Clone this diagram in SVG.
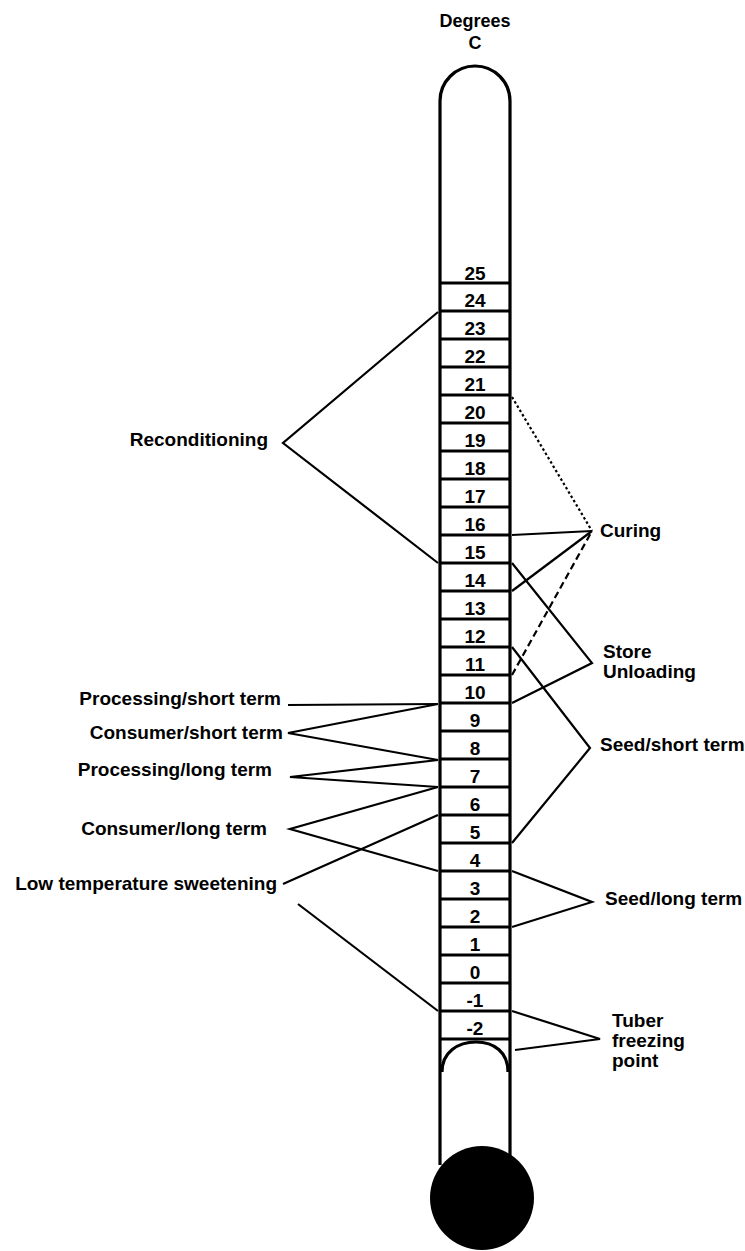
<svg xmlns="http://www.w3.org/2000/svg" width="745" height="1251" viewBox="0 0 745 1251">
<style>
text{font-family:"Liberation Sans",Arial,sans-serif;font-weight:bold;fill:#000}
.lbl{font-size:19px}
.num{font-size:19px;text-anchor:middle}
.l{text-anchor:end}
.wall{stroke:#000;stroke-width:3.2;fill:none}
.div{stroke:#000;stroke-width:3}
.con{stroke:#000;stroke-width:2.2;fill:none;stroke-linejoin:miter}
.dot{stroke-dasharray:2.5,2.5}
.dash{stroke-dasharray:7,4}
</style>
<rect width="745" height="1251" fill="#fff"/>
<g id="title">
<text x="475" y="27" font-size="18" text-anchor="middle">Degrees</text>
<text x="475" y="49" font-size="18" text-anchor="middle">C</text>
</g>
<g id="thermometer">
<path class="wall" d="M440,1165 L440,101 A35,35 0 0 1 510,101 L510,1165"/>
<g class="div">
<line x1="440" y1="283" x2="510" y2="283"/><line x1="440" y1="311" x2="510" y2="311"/>
<line x1="440" y1="339" x2="510" y2="339"/><line x1="440" y1="367" x2="510" y2="367"/>
<line x1="440" y1="395" x2="510" y2="395"/><line x1="440" y1="423" x2="510" y2="423"/>
<line x1="440" y1="451" x2="510" y2="451"/><line x1="440" y1="479" x2="510" y2="479"/>
<line x1="440" y1="507" x2="510" y2="507"/><line x1="440" y1="535" x2="510" y2="535"/>
<line x1="440" y1="563" x2="510" y2="563"/><line x1="440" y1="591" x2="510" y2="591"/>
<line x1="440" y1="619" x2="510" y2="619"/><line x1="440" y1="647" x2="510" y2="647"/>
<line x1="440" y1="675" x2="510" y2="675"/><line x1="440" y1="703" x2="510" y2="703"/>
<line x1="440" y1="731" x2="510" y2="731"/><line x1="440" y1="759" x2="510" y2="759"/>
<line x1="440" y1="787" x2="510" y2="787"/><line x1="440" y1="815" x2="510" y2="815"/>
<line x1="440" y1="843" x2="510" y2="843"/><line x1="440" y1="871" x2="510" y2="871"/>
<line x1="440" y1="899" x2="510" y2="899"/><line x1="440" y1="927" x2="510" y2="927"/>
<line x1="440" y1="955" x2="510" y2="955"/><line x1="440" y1="983" x2="510" y2="983"/>
<line x1="440" y1="1011" x2="510" y2="1011"/><line x1="440" y1="1039" x2="510" y2="1039"/>
</g>
<g class="num">
<text x="475" y="280">25</text><text x="475" y="307">24</text><text x="475" y="335">23</text>
<text x="475" y="363">22</text><text x="475" y="391">21</text><text x="475" y="419">20</text>
<text x="475" y="447">19</text><text x="475" y="475">18</text><text x="475" y="503">17</text>
<text x="475" y="531">16</text><text x="475" y="559">15</text><text x="475" y="587">14</text>
<text x="475" y="615">13</text><text x="475" y="643">12</text><text x="475" y="671">11</text>
<text x="475" y="699">10</text><text x="475" y="727">9</text><text x="475" y="755">8</text>
<text x="475" y="783">7</text><text x="475" y="811">6</text><text x="475" y="839">5</text>
<text x="475" y="867">4</text><text x="475" y="895">3</text><text x="475" y="923">2</text>
<text x="475" y="951">1</text><text x="475" y="979">0</text><text x="475" y="1007">-1</text>
<text x="475" y="1035">-2</text>
</g>
<path class="wall" d="M442,1072 C442,1052 458,1042 476,1042 C494,1042 508,1052 508,1072"/>
<circle cx="482" cy="1198" r="52" fill="#000"/>
</g>
<g id="connectors">
<polyline class="con" points="438,312 283,443 438,563"/>
<line class="con" x1="288" y1="705" x2="438" y2="704"/>
<polyline class="con" points="438,704 288,733 438,760"/>
<polyline class="con" points="438,760 290,777 438,787"/>
<polyline class="con" points="438,787 290,829 438,871"/>
<line class="con" x1="438" y1="815" x2="283" y2="884"/>
<line class="con" x1="298" y1="904" x2="438" y2="1011"/>
<line class="con dot" x1="512" y1="397" x2="592" y2="531"/>
<line class="con" x1="512" y1="535" x2="592" y2="531"/>
<line class="con" x1="512" y1="591" x2="592" y2="531"/>
<line class="con dash" x1="512" y1="675" x2="592" y2="531"/>
<polyline class="con" points="512,563 592,663 512,703"/>
<polyline class="con" points="512,647 590,748 512,843"/>
<polyline class="con" points="512,871 592,902 512,927"/>
<polyline class="con" points="512,1011 600,1039 515,1050"/>
</g>
<g id="reconditioning"><text class="lbl l" x="268" y="446">Reconditioning</text></g>
<g id="processing-short"><text class="lbl l" x="281" y="705">Processing/short term</text></g>
<g id="consumer-short"><text class="lbl l" x="283" y="739">Consumer/short term</text></g>
<g id="processing-long"><text class="lbl l" x="272" y="776">Processing/long term</text></g>
<g id="consumer-long"><text class="lbl l" x="267" y="835">Consumer/long term</text></g>
<g id="low-temp-sweetening"><text class="lbl l" x="277" y="890">Low temperature sweetening</text></g>
<g id="curing"><text class="lbl" x="600" y="537">Curing</text></g>
<g id="store-unloading"><text class="lbl" x="603" y="658">Store</text><text class="lbl" x="603" y="678">Unloading</text></g>
<g id="seed-short"><text class="lbl" x="600" y="751">Seed/short term</text></g>
<g id="seed-long"><text class="lbl" x="605" y="905">Seed/long term</text></g>
<g id="tuber-freezing"><text class="lbl" x="612" y="1027">Tuber</text><text class="lbl" x="612" y="1047">freezing</text><text class="lbl" x="612" y="1067">point</text></g>
</svg>
